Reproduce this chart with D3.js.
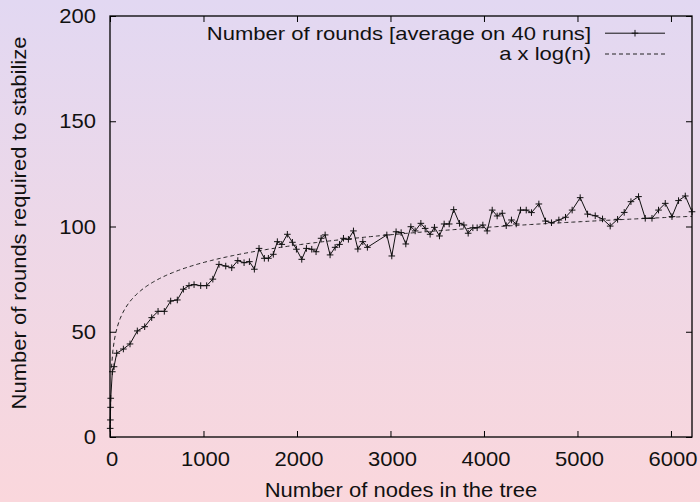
<!DOCTYPE html>
<html>
<head>
<meta charset="utf-8">
<script src="https://cdn.jsdelivr.net/npm/d3@7"></script>
<style>
  html, body { margin: 0; padding: 0; }
  svg { display: block; font-family: "Liberation Sans", Arial, sans-serif; }
</style>
</head>
<body>
<svg width="700" height="502"></svg>
<script>
var nodes = [2, 4, 6, 8, 25, 43, 72, 143, 214, 292, 371, 446, 514, 581, 649, 720, 785, 845, 899, 970,
  1034, 1100, 1166, 1238, 1302, 1367, 1434, 1491, 1544, 1594, 1651, 1694, 1747, 1790, 1837, 1897, 1951, 1994,
  2051, 2101, 2158, 2204, 2258, 2301, 2354, 2408, 2455, 2497, 2550, 2604, 2651, 2704, 2753, 2961, 3014,
  3060, 3114, 3164, 3218, 3264, 3325, 3371, 3424, 3470, 3524, 3574, 3628, 3676, 3738, 3785, 3831, 3881,
  3927, 3988, 4034, 4088, 4141, 4195, 4238, 4294, 4345, 4391, 4452, 4508, 4587, 4658, 4722, 4801, 4872,
  4943, 5029, 5108, 5190, 5268, 5350, 5429, 5500, 5572, 5653, 5725, 5797, 5867, 5939, 6011, 6081, 6153, 6225];
var rounds = [4.1, 8.1, 14.1, 18.4, 31, 33.4, 39.8, 41.8, 44.2, 50.4, 52.4, 56.7, 59.7, 59.7, 64.6, 65.1, 70.2, 71.9, 72.4, 71.9,
  71.9, 75.0, 82.0, 81.2, 80.4, 83.8, 82.8, 83.3, 79.7, 89.6, 84.9, 84.9, 86.8, 92.8, 91.5, 96.3, 92.5, 89.2,
  84.4, 89.6, 89.2, 88.0, 94.4, 96.0, 86.5, 90.1, 91.5, 94.4, 93.9, 97.9, 89.3, 92.8, 90.1, 96.0, 86.0,
  97.5, 97.1, 91.7, 99.9, 97.9, 101.5, 99.1, 96.3, 99.6, 95.5, 101.2, 101.2, 108.0, 101.5, 100.7, 96.8, 99.4,
  99.4, 100.7, 97.9, 107.8, 105.0, 106.3, 100.4, 103.1, 101.2, 107.8, 107.8, 106.6, 110.7, 102.6, 101.8, 103.1, 104.4,
  107.8, 113.7, 105.9, 105.1, 103.6, 100.2, 103.4, 106.7, 111.8, 114.2, 103.9, 103.9, 107.8, 111.0, 104.7, 112.3, 114.5, 107.0];

var fitA = 12.0;           // a in "a x log(n)"
var xMax = 6225;
var xTicks = [0, 1000, 2000, 3000, 4000, 5000, 6000];
var yTicks = [0, 50, 100, 150, 200];
var legendLabels = ["Number of rounds [average on 40 runs]", "a x log(n)"];

var svg = d3.select("svg"),
    width = +svg.attr("width"),
    height = +svg.attr("height");

// background gradient
var grad = svg.append("defs").append("linearGradient")
    .attr("id", "bg").attr("x1", 0).attr("y1", 0).attr("x2", 0).attr("y2", 1);
grad.append("stop").attr("offset", "0%").attr("stop-color", "#e2d8f2");
grad.append("stop").attr("offset", "100%").attr("stop-color", "#fad7dc");
svg.append("rect").attr("width", width).attr("height", height).attr("fill", "url(#bg)");

var x = d3.scaleLinear().domain([0, xMax]).range([110, 692]);
var y = d3.scaleLinear().domain([0, 200]).range([437, 16]);

// the original font is a bit wider than Liberation Sans, so stretch it sideways
function label(parent, px, py, str, anchor, rot, size, stretch) {
  size = size || 20;
  stretch = stretch || 1.1;
  var g = parent.append("g")
      .attr("transform", "translate(" + px + "," + py + ")" + (rot ? " rotate(" + rot + ")" : "") + " scale(" + stretch + ",1)");
  return g.append("text")
      .attr("text-anchor", anchor)
      .attr("dy", "0.35em")
      .attr("font-size", size)
      .attr("fill", "#111")
      .text(str);
}

// axes: ticks point inwards, mirrored on top/right
function tickStyle(g) {
  g.select(".domain").remove();
  g.selectAll(".tick line").attr("stroke", "#000").attr("stroke-width", 1);
  g.selectAll(".tick text").remove();
}
svg.append("g").attr("transform", "translate(0," + y(0) + ")")
    .call(d3.axisBottom(x).tickValues(xTicks).tickSizeInner(-6).tickSizeOuter(0)).call(tickStyle);
svg.append("g").attr("transform", "translate(0," + y(200) + ")")
    .call(d3.axisTop(x).tickValues(xTicks).tickSizeInner(-6).tickSizeOuter(0)).call(tickStyle);
svg.append("g").attr("transform", "translate(" + x(0) + ",0)")
    .call(d3.axisLeft(y).tickValues(yTicks).tickSizeInner(-6).tickSizeOuter(0)).call(tickStyle);
svg.append("g").attr("transform", "translate(" + x(xMax) + ",0)")
    .call(d3.axisRight(y).tickValues(yTicks).tickSizeInner(-6).tickSizeOuter(0)).call(tickStyle);

xTicks.forEach(function (t) { label(svg, x(t) + 2, 459, t, "middle"); });
yTicks.forEach(function (t) { label(svg, 96, y(t), t, "end"); });

label(svg, 401, 490, "Number of nodes in the tree", "middle");
label(svg, 19, 223, "Number of rounds required to stabilize", "middle", -90);

// a x log(n), sampled like gnuplot does
var fitN = d3.range(1, 401).map(function (i) { return xMax * i / 400; });
var fitLine = d3.line()
    .x(function (n) { return x(n); })
    .y(function (n) { return y(fitA * Math.log(n)); });
svg.append("path")
    .datum(fitN)
    .attr("d", fitLine)
    .attr("fill", "none")
    .attr("stroke", "#222")
    .attr("stroke-width", 1)
    .attr("stroke-dasharray", "4,3");

// measured rounds
var pts = nodes.map(function (n, i) { return [n, rounds[i]]; });
var dataLine = d3.line()
    .x(function (d) { return x(d[0]); })
    .y(function (d) { return y(d[1]); });
svg.append("path")
    .datum(pts)
    .attr("d", dataLine)
    .attr("fill", "none")
    .attr("stroke", "#111")
    .attr("stroke-width", 1);

var cross = "M-3.3,0H3.3M0,-3.3V3.3";
svg.append("g").selectAll("path")
    .data(pts)
    .enter().append("path")
    .attr("transform", function (d) { return "translate(" + x(d[0]) + "," + y(d[1]) + ")"; })
    .attr("d", cross)
    .attr("stroke", "#111")
    .attr("stroke-width", 1);

// border
svg.append("rect")
    .attr("x", x(0)).attr("y", y(200))
    .attr("width", x(xMax) - x(0)).attr("height", y(0) - y(200))
    .attr("fill", "none").attr("stroke", "#000").attr("stroke-width", 1.3);

// legend
var legendY = [33.2, 54];
legendLabels.forEach(function (s, i) { label(svg, 591, legendY[i], s, "end", 0, 18.5, 1.19); });
svg.append("line").attr("x1", 605).attr("x2", 665).attr("y1", legendY[0]).attr("y2", legendY[0])
    .attr("stroke", "#111").attr("stroke-width", 1);
svg.append("path").attr("transform", "translate(635," + legendY[0] + ")").attr("d", cross)
    .attr("stroke", "#111").attr("stroke-width", 1);
svg.append("line").attr("x1", 605).attr("x2", 665).attr("y1", legendY[1]).attr("y2", legendY[1])
    .attr("stroke", "#222").attr("stroke-width", 1).attr("stroke-dasharray", "4,3");
</script>
</body>
</html>
